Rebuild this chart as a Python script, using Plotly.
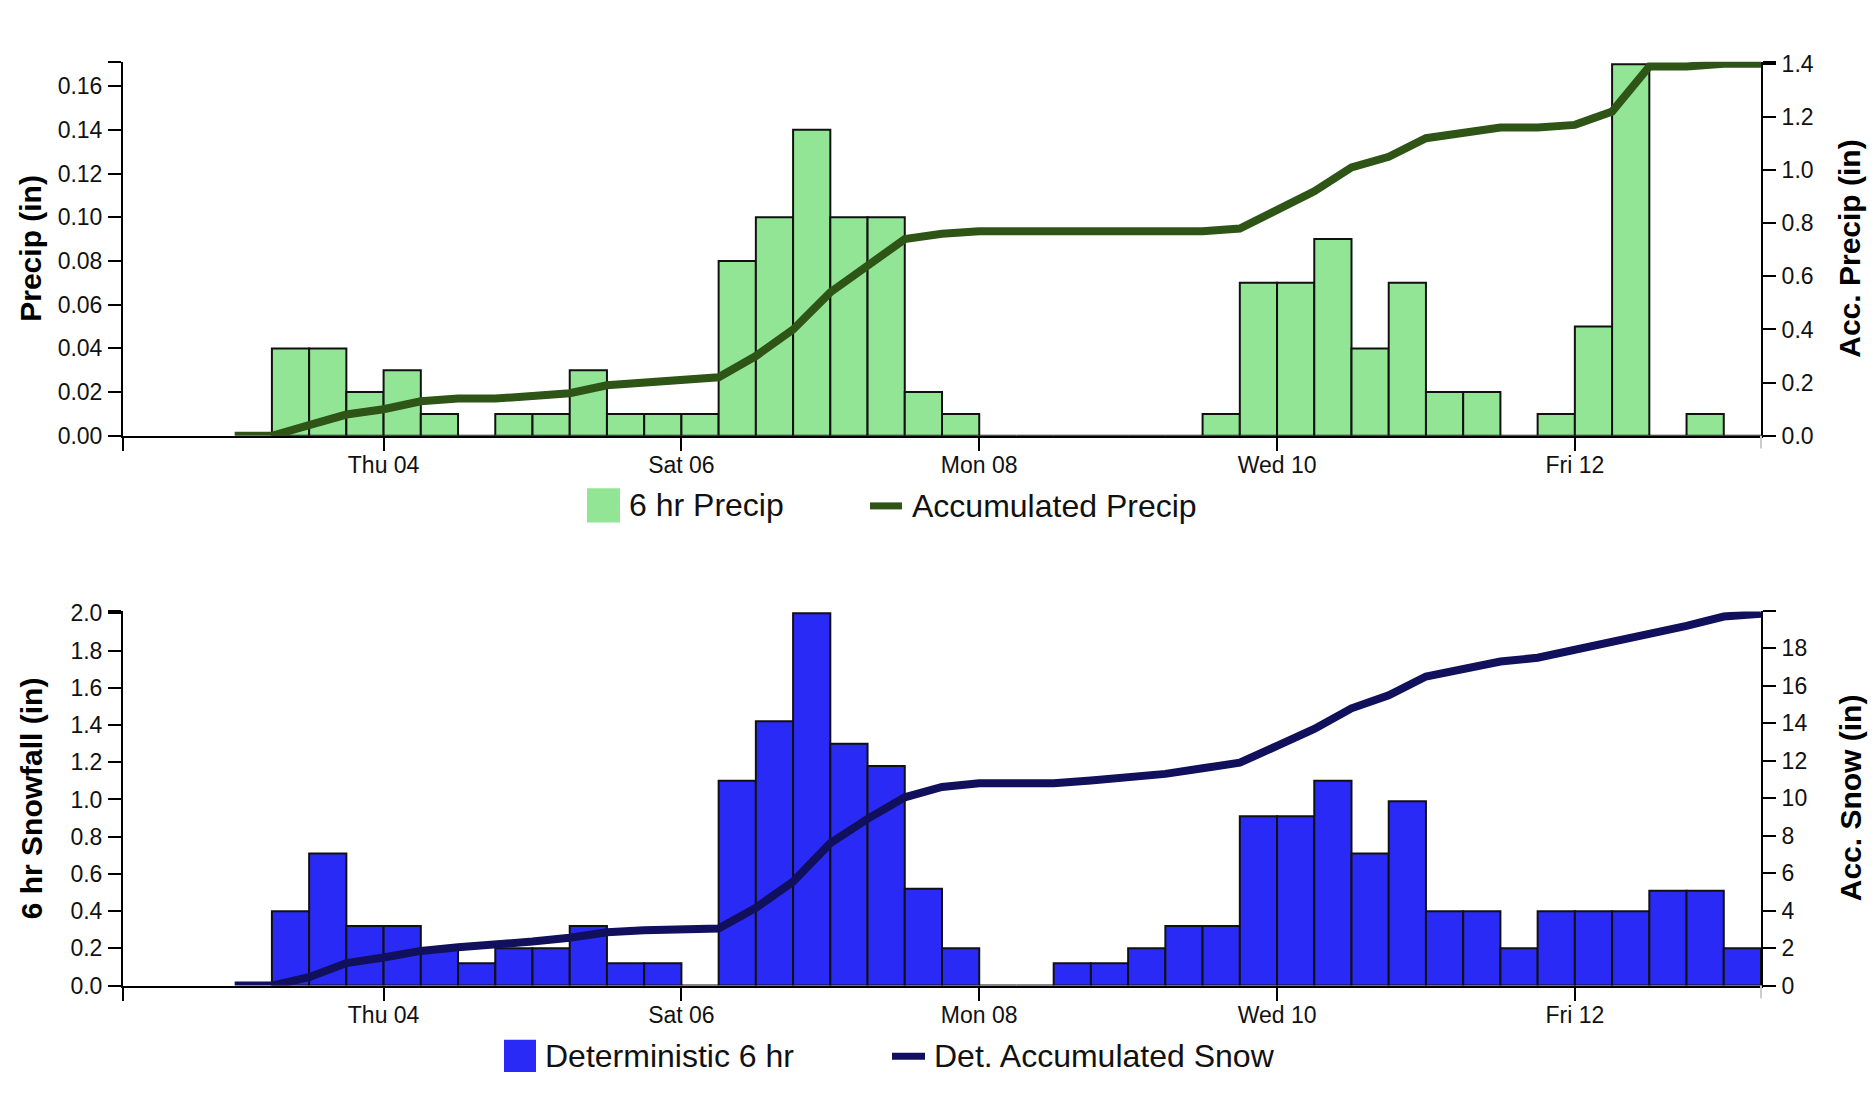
import plotly.graph_objects as go
import pandas as pd

# ---------------- data ----------------
# 6-hour periods (bar start times) and accumulation valid times
bar_start = pd.date_range("2024-01-03 06:00", periods=40, freq="6h")
line_time = pd.date_range("2024-01-03 00:00", periods=42, freq="6h")

precip_6hr = [0.04, 0.04, 0.02, 0.03, 0.01, 0.00, 0.01, 0.01, 0.03, 0.01,
              0.01, 0.01, 0.08, 0.10, 0.14, 0.10, 0.10, 0.02, 0.01, 0.00,
              0.00, 0.00, 0.00, 0.00, 0.00, 0.01, 0.07, 0.07, 0.09, 0.04,
              0.07, 0.02, 0.02, 0.00, 0.01, 0.05, 0.17, 0.00, 0.01, 0.00]

precip_acc = [0.00, 0.00, 0.04, 0.08, 0.10, 0.13, 0.14, 0.14, 0.15, 0.16,
              0.19, 0.20, 0.21, 0.22, 0.30, 0.40, 0.54, 0.64, 0.74, 0.76,
              0.77, 0.77, 0.77, 0.77, 0.77, 0.77, 0.77, 0.78, 0.85, 0.92,
              1.01, 1.05, 1.12, 1.14, 1.16, 1.16, 1.17, 1.22, 1.39, 1.39,
              1.40, 1.40]

snow_6hr = [0.40, 0.71, 0.32, 0.32, 0.20, 0.12, 0.20, 0.20, 0.32, 0.12,
            0.12, 0.00, 1.10, 1.42, 2.00, 1.30, 1.18, 0.52, 0.20, 0.00,
            0.00, 0.12, 0.12, 0.20, 0.32, 0.32, 0.91, 0.91, 1.10, 0.71,
            0.99, 0.40, 0.40, 0.20, 0.40, 0.40, 0.40, 0.51, 0.51, 0.20]

snow_acc = [0.00, 0.00, 0.45, 1.20, 1.50, 1.85, 2.05, 2.15, 2.35, 2.55,
            2.85, 2.95, 3.05, 3.05, 4.15, 5.55, 7.60, 8.90, 10.05, 10.60,
            10.80, 10.80, 10.80, 10.95, 11.10, 11.30, 11.60, 11.90, 12.80, 13.70,
            14.80, 15.50, 16.50, 16.90, 17.30, 17.50, 17.90, 18.30, 18.70, 19.20,
            19.70, 19.85]

x_tickvals = ["2024-01-02 06:00", "2024-01-04", "2024-01-06", "2024-01-08",
              "2024-01-10", "2024-01-12"]
x_ticktext = ["", "Thu 04", "Sat 06", "Mon 08", "Wed 10", "Fri 12"]
x_range = ["2024-01-02 06:00", "2024-01-13 06:00"]

p_ticks = [0, 0.02, 0.04, 0.06, 0.08, 0.10, 0.12, 0.14, 0.16]
p_ticktext = ["0.00", "0.02", "0.04", "0.06", "0.08", "0.10", "0.12", "0.14", "0.16"]
pa_ticks = [0, 0.2, 0.4, 0.6, 0.8, 1.0, 1.2, 1.4]
pa_ticktext = ["0.0", "0.2", "0.4", "0.6", "0.8", "1.0", "1.2", "1.4"]
s_ticks = [0, 0.2, 0.4, 0.6, 0.8, 1.0, 1.2, 1.4, 1.6, 1.8, 2.0]
s_ticktext = ["0.0", "0.2", "0.4", "0.6", "0.8", "1.0", "1.2", "1.4", "1.6", "1.8", "2.0"]
sa_ticks = [0, 2, 4, 6, 8, 10, 12, 14, 16, 18]
sa_ticktext = ["0", "2", "4", "6", "8", "10", "12", "14", "16", "18"]

p_max, pa_max, s_max, sa_max = 0.1712, 1.408, 2.01, 19.97

# ---------------- styling ----------------
PAGE_W, PAGE_H = 1876, 1093
BODY_MARGIN = 8                       # browser default body margin on every side
W, H = PAGE_W - 2 * BODY_MARGIN, PAGE_H - 2 * BODY_MARGIN   # no page overflow
FONT = "Arial, Liberation Sans, sans-serif"
GREEN_BAR = "#92E594"
GREEN_LINE = "#2E5416"
BLUE_BAR = "#2A2AF6"
NAVY_LINE = "#10105C"
SIX_HR_MS = 6 * 3600 * 1000


def px(x):
    return (x - BODY_MARGIN) / W


def py(y):
    return 1 - (y - BODY_MARGIN) / H


x_dom = [px(123), px(1761)]
top_dom = [py(434.3), py(51.6)]
bot_dom = [py(996.6), py(614)]

fig = go.Figure()
fig.add_trace(go.Bar(x=bar_start, y=precip_6hr, width=SIX_HR_MS, offset=0,
                     marker=dict(color=GREEN_BAR, line=dict(color="#111111", width=2)),
                     xaxis="x", yaxis="y", showlegend=False))
fig.add_trace(go.Scatter(x=line_time, y=precip_acc, mode="lines",
                         line=dict(color=GREEN_LINE, width=8),
                         xaxis="x", yaxis="y2", showlegend=False))
fig.add_trace(go.Bar(x=bar_start, y=snow_6hr, width=SIX_HR_MS, offset=0,
                     marker=dict(color=BLUE_BAR, line=dict(color="#111111", width=2)),
                     xaxis="x2", yaxis="y3", showlegend=False))
fig.add_trace(go.Scatter(x=line_time, y=snow_acc, mode="lines",
                         line=dict(color=NAVY_LINE, width=8),
                         xaxis="x2", yaxis="y4", showlegend=False))

axis_common = dict(showline=True, linecolor="black", linewidth=2, ticks="outside",
                   ticklen=13, tickwidth=2, tickcolor="black", showgrid=False,
                   zeroline=False, tickfont=dict(family=FONT, size=23, color="#111111"))

xcommon = dict(axis_common, type="date", range=x_range, domain=x_dom,
               tickmode="array", tickvals=x_tickvals, ticktext=x_ticktext,
               ticklabelstandoff=-5)

fig.update_layout(
    width=W, height=H, autosize=False,
    margin=dict(l=0, r=0, t=0, b=0),
    paper_bgcolor="white", plot_bgcolor="white",
    barmode="overlay",
    xaxis=dict(xcommon, anchor="y"),
    xaxis2=dict(xcommon, anchor="y3"),
    yaxis=dict(axis_common, domain=top_dom, range=[0, p_max], anchor="x",
               tickmode="array", tickvals=p_ticks + [p_max], ticktext=p_ticktext + [""],
               ticklabelstandoff=1),
    yaxis2=dict(axis_common, overlaying="y", side="right", anchor="x", range=[0, pa_max],
                tickmode="array", tickvals=pa_ticks + [pa_max], ticktext=pa_ticktext + [""],
                ticklabelstandoff=1),
    yaxis3=dict(axis_common, domain=bot_dom, range=[0, s_max], anchor="x2",
                tickmode="array", tickvals=s_ticks + [s_max], ticktext=s_ticktext + [""],
                ticklabelstandoff=1),
    yaxis4=dict(axis_common, overlaying="y3", side="right", anchor="x2", range=[0, sa_max],
                tickmode="array", tickvals=sa_ticks + [sa_max], ticktext=sa_ticktext + [""],
                ticklabelstandoff=1),
)

# axis titles
title_font = dict(family=FONT, size=30, color="black", weight="bold")
for text, x, y in [("Precip (in)", 31, 243), ("Acc. Precip (in)", 1850, 243),
                   ("6 hr Snowfall (in)", 31, 805), ("Acc. Snow (in)", 1850, 805)]:
    fig.add_annotation(text=text, x=px(x), y=py(y), xref="paper", yref="paper",
                       textangle=-90, showarrow=False, font=title_font,
                       xanchor="center", yanchor="middle")

# faint outer tick at right end of x axes
for yb in (434.3, 996.6):
    fig.add_shape(type="line", xref="paper", yref="paper", x0=px(1761), x1=px(1761),
                  y0=py(yb), y1=py(yb + 13), line=dict(color="#cccccc", width=2))

# custom legends
leg_font = dict(family=FONT, size=32, color="#111111")
legends = [
    (587, 620, 488, 523, GREEN_BAR, "6 hr Precip", 627, 870, 902, 506, GREEN_LINE, "Accumulated Precip", 910),
    (504, 536, 1052, 1085, BLUE_BAR, "Deterministic 6 hr", 543, 892, 925, 1069, NAVY_LINE, "Det. Accumulated Snow", 932),
]
for (rx0, rx1, ry0, ry1, bcol, btxt, btx, lx0, lx1, ly, lcol, ltxt, ltx) in legends:
    fig.add_shape(type="rect", xref="paper", yref="paper", x0=px(rx0), x1=px(rx1),
                  y0=py(ry1), y1=py(ry0), fillcolor=bcol, line=dict(width=0))
    fig.add_annotation(text=btxt, x=px(btx), y=py((ry0 + ry1) / 2), xref="paper", yref="paper",
                       showarrow=False, xanchor="left", yanchor="middle", font=leg_font)
    fig.add_shape(type="line", xref="paper", yref="paper", x0=px(lx0), x1=px(lx1),
                  y0=py(ly), y1=py(ly), line=dict(color=lcol, width=7))
    fig.add_annotation(text=ltxt, x=px(ltx), y=py(ly), xref="paper", yref="paper",
                       showarrow=False, xanchor="left", yanchor="middle", font=leg_font)

fig.write_html("out.html")
